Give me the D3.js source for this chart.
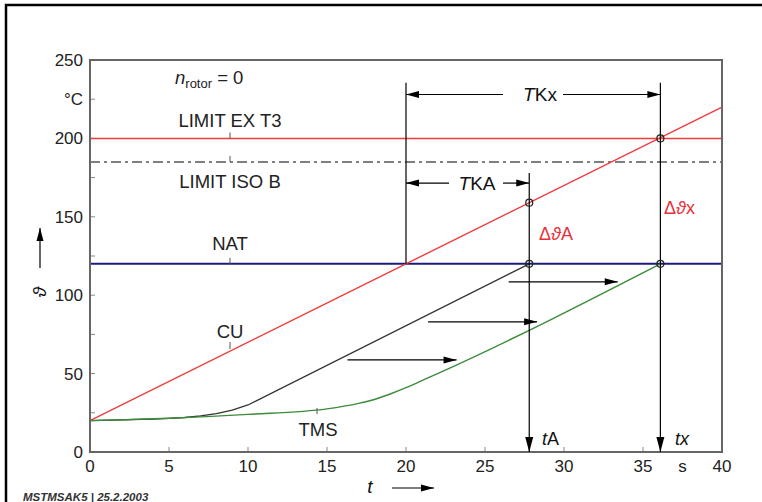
<!DOCTYPE html>
<html>
<head>
<meta charset="utf-8">
<script src="https://cdn.jsdelivr.net/npm/d3@7"></script>
<style>
  body { margin: 0; background: #fff; }
  svg text { font-family: "Liberation Sans", Arial, sans-serif; }
</style>
</head>
<body>
<div id="chart"></div>
<script>
// temperature rise of rotor parts, n = 0
const xTicks = [0, 5, 10, 15, 20, 25, 30, 35, 40];
const yTicks = [0, 50, 100, 150, 200, 250];
const yMinor = [25, 75, 125, 175, 225];
const cuLine = [[0, 20], [40, 220]];
const blackLine = [[0, 20], [4, 21], [5, 21.4], [6, 22], [7, 23], [8, 24.5], [9, 26.7], [10, 30], [27.8, 120]];
const tmsLine = [[0, 20], [5, 21.5], [10, 24], [15, 27.5], [17, 31], [18, 33.5], [19, 37], [20, 41], [21, 45.5], [22, 50], [36.1, 120]];
const limitEx = 200, limitIso = 185, nat = 120;
const tK = 20, tA = 27.8, tX = 36.1;
const tkxLevel = 228, tkaLevel = 171.5;
const circles = [[27.8, 159], [27.8, 120], [36.1, 200], [36.1, 120]];
const shifts = [[16.3, 23.2, 58.7], [21.4, 28.3, 83], [26.5, 33.4, 108.5]];

const W = 762, H = 502;
const svg = d3.select("#chart").append("svg").attr("width", W).attr("height", H);

// outer page frame
svg.append("rect").attr("x", 6).attr("y", 5).attr("width", 780).attr("height", 520)
    .attr("fill", "none").attr("stroke", "#000").attr("stroke-width", 2.5);

const x = d3.scaleLinear().domain([0, 40]).range([90, 722]);
const y = d3.scaleLinear().domain([0, 250]).range([452, 60]);
const line = d3.line().x(d => x(d[0])).y(d => y(d[1]));
const smooth = d3.line().x(d => x(d[0])).y(d => y(d[1])).curve(d3.curveMonotoneX);

function arrowHead(g, x1, y1, x2, y2, len, wid) {
    // filled triangle pointing from (x1,y1) to tip (x2,y2)
    const a = Math.atan2(y2 - y1, x2 - x1);
    const bx = x2 - len * Math.cos(a), by = y2 - len * Math.sin(a);
    const px = -Math.sin(a) * wid / 2, py = Math.cos(a) * wid / 2;
    g.append("path")
        .attr("d", `M${x2},${y2}L${bx + px},${by + py}L${bx - px},${by - py}Z`)
        .attr("fill", "#000");
}
function arrow(x1, y1, x2, y2) {
    svg.append("line").attr("x1", x1).attr("y1", y1).attr("x2", x2).attr("y2", y2)
        .attr("stroke", "#000").attr("stroke-width", 1.2);
    arrowHead(svg, x1, y1, x2, y2, 13, 7);
}

// ticks (inside)
svg.selectAll(".yt").data(yTicks.concat(yMinor)).enter().append("line")
    .attr("x1", x(0)).attr("x2", x(0) + 5).attr("y1", d => y(d)).attr("y2", d => y(d))
    .attr("stroke", "#888").attr("stroke-width", 1);
svg.selectAll(".xt").data(xTicks).enter().append("line")
    .attr("x1", d => x(d)).attr("x2", d => x(d)).attr("y1", y(0)).attr("y2", y(0) - 5)
    .attr("stroke", "#888").attr("stroke-width", 1);

// tick labels
svg.selectAll(".yl").data(yTicks).enter().append("text")
    .attr("x", 83).attr("y", d => y(d) + 6).attr("text-anchor", "end")
    .attr("font-size", 17).attr("fill", "#222").text(d => d);
svg.append("text").attr("x", 83).attr("y", y(225) + 6).attr("text-anchor", "end")
    .attr("font-size", 17).attr("fill", "#222").text("°C");
svg.selectAll(".xl").data(xTicks).enter().append("text")
    .attr("x", d => x(d)).attr("y", 472).attr("text-anchor", "middle")
    .attr("font-size", 17).attr("fill", "#222").text(d => d);
svg.append("text").attr("x", x(37.5)).attr("y", 472).attr("text-anchor", "middle")
    .attr("font-size", 17).attr("fill", "#222").text("s");

// horizontal limits
svg.append("line").attr("x1", x(0)).attr("x2", x(40)).attr("y1", y(limitIso)).attr("y2", y(limitIso))
    .attr("stroke", "#555").attr("stroke-width", 1.5).attr("stroke-dasharray", "10,4,3,4");
svg.append("line").attr("x1", x(0)).attr("x2", x(40)).attr("y1", y(limitEx)).attr("y2", y(limitEx))
    .attr("stroke", "#f03c3c").attr("stroke-width", 1.5);
svg.append("line").attr("x1", x(0)).attr("x2", x(40)).attr("y1", y(nat)).attr("y2", y(nat))
    .attr("stroke", "#1c1c78").attr("stroke-width", 2);

// curves
svg.append("path").datum(cuLine).attr("d", line).attr("fill", "none")
    .attr("stroke", "#f03c3c").attr("stroke-width", 1.4);
svg.append("path").datum(blackLine).attr("d", line).attr("fill", "none")
    .attr("stroke", "#333").attr("stroke-width", 1.3);
svg.append("path").datum(tmsLine).attr("d", smooth).attr("fill", "none")
    .attr("stroke", "#3c8a3c").attr("stroke-width", 1.4);

// plot frame
svg.append("rect").attr("x", x(0)).attr("y", y(250)).attr("width", x(40) - x(0)).attr("height", y(0) - y(250))
    .attr("fill", "none").attr("stroke", "#666").attr("stroke-width", 2);

// leader ticks for curve labels
[limitEx, limitIso, nat].forEach(v => {
    svg.append("line").attr("x1", 230).attr("x2", 230).attr("y1", y(v)).attr("y2", y(v) - 6)
        .attr("stroke", "#555").attr("stroke-width", 1);
});
svg.append("line").attr("x1", 230).attr("x2", 230).attr("y1", 342).attr("y2", 349)
    .attr("stroke", "#555").attr("stroke-width", 1);
svg.append("line").attr("x1", 317).attr("x2", 317).attr("y1", 408).attr("y2", 414)
    .attr("stroke", "#555").attr("stroke-width", 1);

// curve labels
const lbl = (tx, ty, s) => svg.append("text").attr("x", tx).attr("y", ty)
    .attr("text-anchor", "middle").attr("font-size", 18.5).attr("fill", "#222").text(s);
lbl(230, 127, "LIMIT EX T3");
lbl(230, 188, "LIMIT ISO B");
lbl(230, 250, "NAT");
lbl(230, 338, "CU");
lbl(318, 436, "TMS");

const nr = svg.append("text").attr("x", 175).attr("y", 84).attr("font-size", 18.5).attr("fill", "#222");
nr.append("tspan").attr("font-style", "italic").text("n");
nr.append("tspan").attr("font-size", 13).attr("dy", 4).text("rotor");
nr.append("tspan").attr("dy", -4).text(" = 0");

// vertical markers
svg.append("line").attr("x1", x(tK)).attr("x2", x(tK)).attr("y1", y(235.5)).attr("y2", y(nat))
    .attr("stroke", "#000").attr("stroke-width", 1.2);
svg.append("line").attr("x1", x(tA)).attr("x2", x(tA)).attr("y1", y(178)).attr("y2", y(0))
    .attr("stroke", "#000").attr("stroke-width", 1.2);
arrowHead(svg, x(tA), y(20), x(tA), y(0), 15, 8);
svg.append("line").attr("x1", x(tX)).attr("x2", x(tX)).attr("y1", y(235.5)).attr("y2", y(0))
    .attr("stroke", "#000").attr("stroke-width", 1.2);
arrowHead(svg, x(tX), y(20), x(tX), y(0), 15, 8);

// TKx dimension
const tkxMid = 540;
arrow(tkxMid - 37, y(tkxLevel), x(tK), y(tkxLevel));
arrow(tkxMid + 23, y(tkxLevel), x(tX), y(tkxLevel));
const tkx = svg.append("text").attr("x", tkxMid).attr("y", y(tkxLevel) + 7).attr("text-anchor", "middle")
    .attr("font-size", 19).attr("fill", "#111");
tkx.append("tspan").attr("font-style", "italic").text("T");
tkx.append("tspan").text("Kx");

// TKA dimension
const tkaMid = 477;
arrow(tkaMid - 28, y(tkaLevel), x(tK), y(tkaLevel));
arrow(tkaMid + 26, y(tkaLevel), x(tA), y(tkaLevel));
const tka = svg.append("text").attr("x", tkaMid).attr("y", y(tkaLevel) + 7).attr("text-anchor", "middle")
    .attr("font-size", 19).attr("fill", "#111");
tka.append("tspan").attr("font-style", "italic").text("T");
tka.append("tspan").text("KA");

// shift arrows between curves
shifts.forEach(d => arrow(x(d[0]), y(d[2]), x(d[1]), y(d[2])));

// circles
svg.selectAll(".pt").data(circles).enter().append("circle")
    .attr("cx", d => x(d[0])).attr("cy", d => y(d[1])).attr("r", 3.5)
    .attr("fill", "none").attr("stroke", "#222").attr("stroke-width", 1.2);

// red delta labels
const dl = (tx, ty, s) => {
    const t = svg.append("text").attr("x", tx).attr("y", ty).attr("font-size", 18).attr("fill", "#e8303a");
    t.append("tspan").text("Δ");
    t.append("tspan").attr("font-style", "italic").text("ϑ");
    t.append("tspan").text(s);
};
dl(539, 240, "A");
dl(664, 214, "x");

// time markers
const tm = (tx, s) => {
    const t = svg.append("text").attr("x", tx).attr("y", 445).attr("font-size", 18).attr("fill", "#111");
    t.append("tspan").attr("font-style", "italic").text("t");
    t.append("tspan").attr("font-style", s === "x" ? "italic" : "normal").text(s);
};
tm(542, "A");
tm(675, "x");

// axis titles
svg.append("text").attr("x", 370).attr("y", 493).attr("text-anchor", "middle")
    .attr("font-size", 19).attr("font-style", "italic").attr("fill", "#111").text("t");
arrow(392, 488, 434, 488);
svg.append("text").attr("transform", "translate(46,292) rotate(-90)").attr("text-anchor", "middle")
    .attr("font-size", 19).attr("font-style", "italic").attr("fill", "#111").text("ϑ");
arrow(40, 268, 40, 228);

svg.append("text").attr("x", 23).attr("y", 501).attr("font-size", 11.5).attr("font-weight", "bold")
    .attr("font-style", "italic").attr("fill", "#333").text("MSTMSAK5 | 25.2.2003");
</script>
</body>
</html>
